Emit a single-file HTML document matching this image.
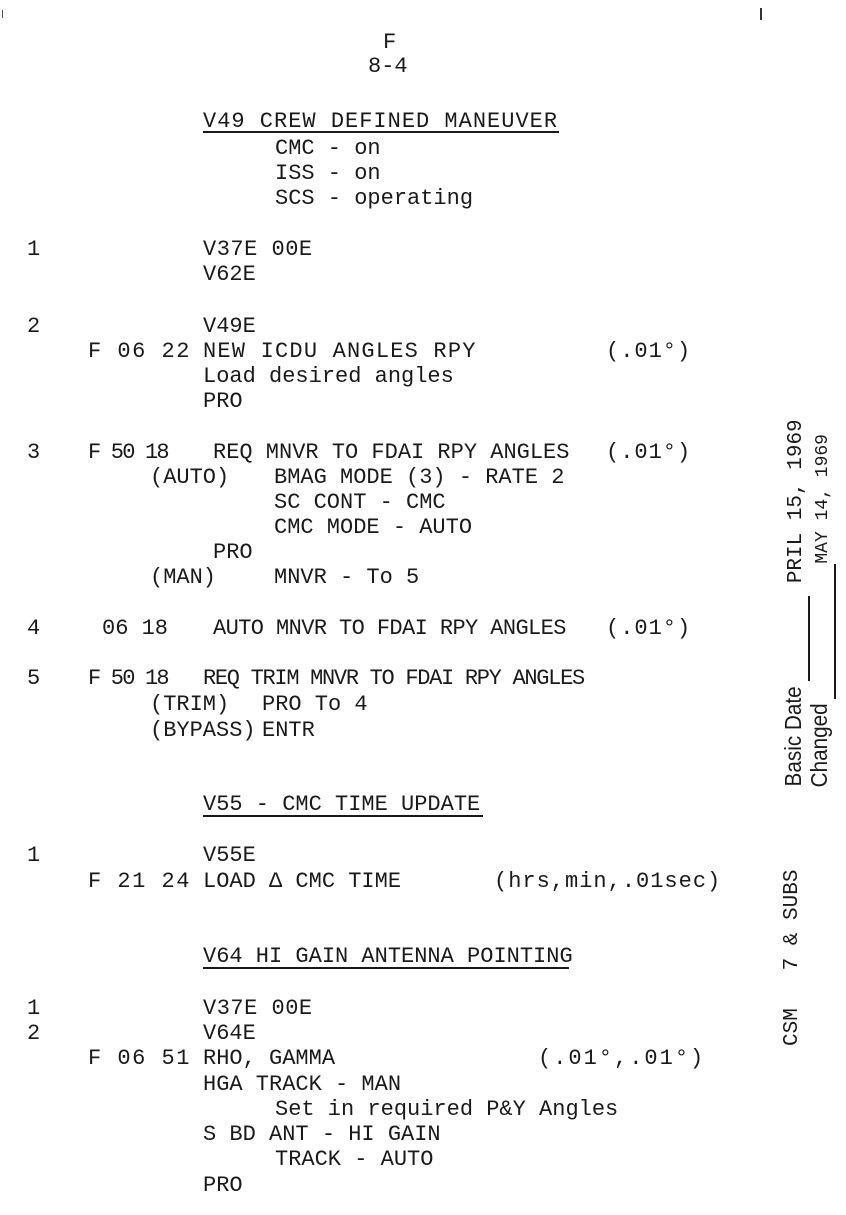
<!DOCTYPE html>
<html><head><meta charset="utf-8"><style>
html,body{margin:0;padding:0;background:#fff;}
body{width:846px;height:1215px;position:relative;overflow:hidden;}
.l{position:absolute;font-family:"Liberation Mono","DejaVu Sans Mono",monospace;font-size:22px;letter-spacing:0px;line-height:26px;height:26px;white-space:pre;color:#1a1a1a;}
.u{position:absolute;height:2px;background:#1a1a1a;}
.r{position:absolute;transform:rotate(-90deg);transform-origin:0 0;white-space:pre;color:#1a1a1a;line-height:26px;}
.s{font-family:"Liberation Sans",sans-serif;font-size:23px;transform:scaleX(0.9);display:inline-block;}
.m{font-family:"Liberation Mono",monospace;font-size:21px;}
</style></head><body>
<div class="l" style="left:383px;top:30px">F</div>
<div class="l" style="left:368px;top:54px">8-4</div>

<div class="l" style="left:203px;top:109px;letter-spacing:1px">V49 CREW DEFINED MANEUVER</div>
<div class="u" style="left:203px;top:131px;width:356px"></div>
<div class="l" style="left:275px;top:136px">CMC - on</div>
<div class="l" style="left:275px;top:161px">ISS - on</div>
<div class="l" style="left:275px;top:186px">SCS - operating</div>

<div class="l" style="left:27px;top:237px">1</div>
<div class="l" style="left:203px;top:237px;letter-spacing:0.5px">V37E 00E</div>
<div class="l" style="left:203px;top:262px">V62E</div>

<div class="l" style="left:27px;top:314px">2</div>
<div class="l" style="left:203px;top:314px">V49E</div>
<div class="l" style="left:88px;top:339px;letter-spacing:1.5px">F 06 22</div>
<div class="l" style="left:203px;top:339px;letter-spacing:1.2px">NEW ICDU ANGLES RPY</div>
<div class="l" style="left:606px;top:339px;letter-spacing:1px">(.01°)</div>
<div class="l" style="left:203px;top:364px">Load desired angles</div>
<div class="l" style="left:203px;top:389px">PRO</div>

<div class="l" style="left:27px;top:440px">3</div>
<div class="l" style="left:88px;top:440px;letter-spacing:-1.8px">F 50 18</div>
<div class="l" style="left:213px;top:440px">REQ MNVR TO FDAI RPY ANGLES</div>
<div class="l" style="left:606px;top:440px;letter-spacing:1px">(.01°)</div>
<div class="l" style="left:150px;top:465px">(AUTO)</div>
<div class="l" style="left:274px;top:465px">BMAG MODE (3) - RATE 2</div>
<div class="l" style="left:274px;top:490px">SC CONT - CMC</div>
<div class="l" style="left:274px;top:515px">CMC MODE - AUTO</div>
<div class="l" style="left:213px;top:540px">PRO</div>
<div class="l" style="left:150px;top:565px">(MAN)</div>
<div class="l" style="left:274px;top:565px">MNVR - To 5</div>

<div class="l" style="left:27px;top:616px">4</div>
<div class="l" style="left:102px;top:616px">06 18</div>
<div class="l" style="left:213px;top:616px;letter-spacing:-0.6px">AUTO MNVR TO FDAI RPY ANGLES</div>
<div class="l" style="left:606px;top:616px;letter-spacing:1px">(.01°)</div>

<div class="l" style="left:27px;top:666px">5</div>
<div class="l" style="left:88px;top:666px;letter-spacing:-1.8px">F 50 18</div>
<div class="l" style="left:203px;top:666px;letter-spacing:-1.3px">REQ TRIM MNVR TO FDAI RPY ANGLES</div>
<div class="l" style="left:150px;top:692px">(TRIM)</div>
<div class="l" style="left:262px;top:692px">PRO To 4</div>
<div class="l" style="left:150px;top:718px">(BYPASS)</div>
<div class="l" style="left:262px;top:718px">ENTR</div>

<div class="l" style="left:203px;top:792px">V55 - CMC TIME UPDATE</div>
<div class="u" style="left:203px;top:815px;width:280px"></div>
<div class="l" style="left:27px;top:843px">1</div>
<div class="l" style="left:203px;top:843px">V55E</div>
<div class="l" style="left:88px;top:869px;letter-spacing:1.5px">F 21 24</div>
<div class="l" style="left:203px;top:869px">LOAD Δ CMC TIME</div>
<div class="l" style="left:494px;top:869px;letter-spacing:1px">(hrs,min,.01sec)</div>

<div class="l" style="left:203px;top:944px">V64 HI GAIN ANTENNA POINTING</div>
<div class="u" style="left:203px;top:967px;width:366px"></div>
<div class="l" style="left:27px;top:996px">1</div>
<div class="l" style="left:203px;top:996px;letter-spacing:0.5px">V37E 00E</div>
<div class="l" style="left:27px;top:1021px">2</div>
<div class="l" style="left:203px;top:1021px">V64E</div>
<div class="l" style="left:88px;top:1046px;letter-spacing:1.5px">F 06 51</div>
<div class="l" style="left:203px;top:1046px">RHO, GAMMA</div>
<div class="l" style="left:538px;top:1046px;letter-spacing:2px">(.01°,.01°)</div>
<div class="l" style="left:203px;top:1072px">HGA TRACK - MAN</div>
<div class="l" style="left:275px;top:1097px">Set in required P&amp;Y Angles</div>
<div class="l" style="left:203px;top:1122px">S BD ANT - HI GAIN</div>
<div class="l" style="left:275px;top:1147px">TRACK - AUTO</div>
<div class="l" style="left:203px;top:1173px">PRO</div>

<div class="r" style="left:780px;top:792px"><span class="s">Basic Date</span><span style="display:inline-block;width:85px;border-bottom:2px solid #1a1a1a;height:20px;vertical-align:bottom"></span><span class="m"> PRIL 15, 1969</span></div>
<div class="r" style="left:806px;top:792px"><span class="s">Changed</span><span style="display:inline-block;width:135px;border-bottom:2px solid #1a1a1a;height:20px;vertical-align:bottom"></span><span class="m" style="font-size:18px">MAY 14, 1969</span></div>
<div class="r" style="left:780px;top:1046px"><span class="m">CSM   7 &amp; SUBS</span></div>
<div style="position:absolute;left:760px;top:8px;width:2px;height:12px;background:#333"></div>
<div style="position:absolute;left:2px;top:10px;width:1px;height:8px;background:#555"></div>
</body></html>
